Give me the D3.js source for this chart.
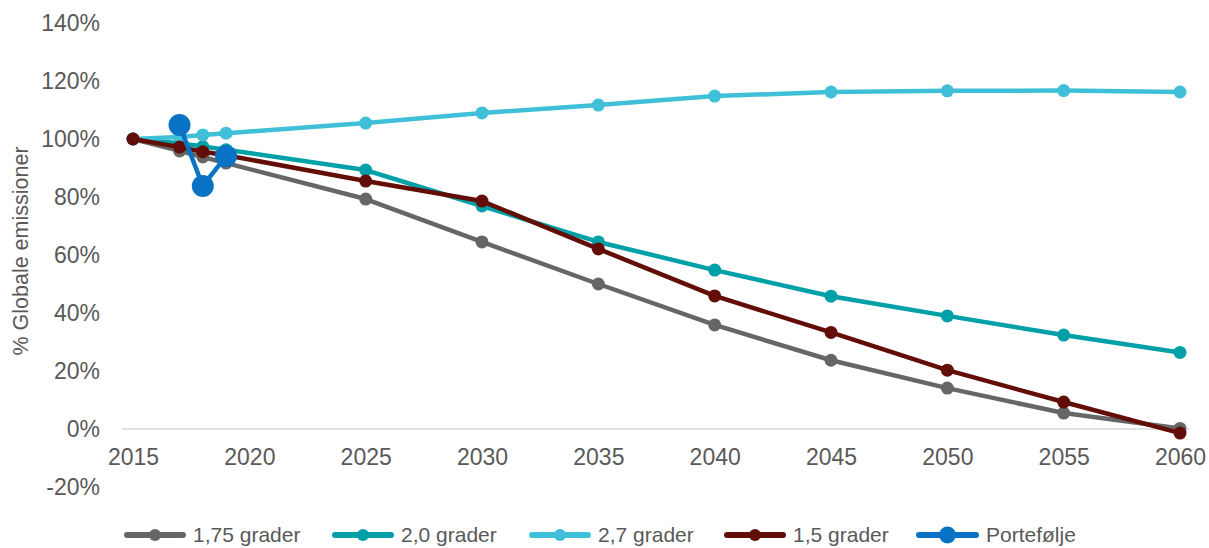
<!DOCTYPE html>
<html><head><meta charset="utf-8">
<script src="https://cdn.jsdelivr.net/npm/d3@7"></script>
<style>body{margin:0;background:#fff;}svg{display:block;font-family:"Liberation Sans",Arial,sans-serif;}</style>
</head><body><svg id="c" width="1209" height="548"></svg>
<script>
const years = [2015, 2017, 2018, 2019, 2025, 2030, 2035, 2040, 2045, 2050, 2055, 2060];
const s175 = [100, 95.9, 93.8, 91.7, 79.3, 64.5, 50, 35.9, 23.7, 14.1, 5.5, 0.2];
const s20  = [100, 98.5, 97.4, 96.3, 89.3, 76.9, 64.5, 54.8, 45.8, 39.0, 32.4, 26.4];
const s27  = [100, 100.7, 101.4, 102.0, 105.5, 109.0, 111.7, 114.8, 116.2, 116.6, 116.7, 116.2];
const s15  = [100, 97.2, 95.6, 94.4, 85.5, 78.6, 62.1, 45.9, 33.3, 20.3, 9.3, -1.4];
const portYears = [2017, 2018, 2019];
const portVals = [104.8, 83.8, 94.1];
const xTicks = [2015, 2020, 2025, 2030, 2035, 2040, 2045, 2050, 2055, 2060];
const yTicks = [-20, 0, 20, 40, 60, 80, 100, 120, 140];
const names = ["1,75 grader", "2,0 grader", "2,7 grader", "1,5 grader", "Portefølje"];
const colors = ["#666666", "#00a0a8", "#40c0d8", "#620e06", "#0872c4"];

const svg = d3.select("#c");
const x = d3.scaleLinear().domain([2015, 2060]).range([133, 1180]);
const y = d3.scaleLinear().domain([0, 140]).range([429, 23]);

// zero line
svg.append("line").attr("x1", 122).attr("x2", 1190).attr("y1", y(0)).attr("y2", y(0))
  .attr("stroke", "#d9d9d9").attr("stroke-width", 1.5);

// y axis labels
const yAxis = d3.axisLeft(y).tickValues(yTicks).tickFormat(d => d + "%").tickSize(0).tickPadding(0);
const gy = svg.append("g").attr("transform", "translate(100,0)").call(yAxis);
gy.select(".domain").remove();
gy.selectAll("text").attr("font-size", 23).attr("fill", "#595959").attr("font-family", "Liberation Sans, Arial, sans-serif");

// x axis labels
const xAxis = d3.axisBottom(x).tickValues(xTicks).tickFormat(d3.format("d")).tickSize(0).tickPadding(0);
const gx = svg.append("g").attr("transform", "translate(0,457)").call(xAxis);
gx.select(".domain").remove();
gx.selectAll("text").attr("font-size", 23).attr("fill", "#595959").attr("font-family", "Liberation Sans, Arial, sans-serif").attr("dy", "0.35em").attr("y", 0);

// y title
svg.append("text").attr("transform", "translate(28,251) rotate(-90)").attr("text-anchor", "middle")
  .attr("font-size", 21.5).attr("fill", "#595959").text("% Globale emissioner");

const line = d3.line().x(d => x(d[0])).y(d => y(d[1]));
const series = [s175, s20, s27, s15];
series.forEach((vals, i) => {
  const pts = years.map((yr, j) => [yr, vals[j]]);
  const g = svg.append("g");
  g.append("path").datum(pts).attr("d", line).attr("fill", "none")
    .attr("stroke", colors[i]).attr("stroke-width", 4.5).attr("stroke-linejoin", "round");
  g.selectAll("circle").data(pts).join("circle").attr("cx", d => x(d[0])).attr("cy", d => y(d[1]))
    .attr("r", 6.5).attr("fill", colors[i]);
});
const pPts = portYears.map((yr, j) => [yr, portVals[j]]);
const gp = svg.append("g");
gp.append("path").datum(pPts).attr("d", line).attr("fill", "none").attr("stroke", colors[4]).attr("stroke-width", 4.5);
gp.selectAll("circle").data(pPts).join("circle").attr("cx", d => x(d[0])).attr("cy", d => y(d[1]))
  .attr("r", 11).attr("fill", colors[4]);

// legend
const legX = [127, 335, 532, 727, 919];
const legLen = [56, 56, 56, 56, 57];
const ly = 535;
names.forEach((n, i) => {
  const g = svg.append("g");
  g.append("line").attr("x1", legX[i]).attr("x2", legX[i] + legLen[i]).attr("y1", ly).attr("y2", ly)
    .attr("stroke", colors[i]).attr("stroke-width", 6).attr("stroke-linecap", "round");
  g.append("circle").attr("cx", legX[i] + legLen[i] / 2).attr("cy", ly).attr("r", i === 4 ? 8.5 : 6).attr("fill", colors[i]);
  g.append("text").attr("x", legX[i] + legLen[i] + 10).attr("y", ly).attr("dy", "0.35em")
    .attr("font-size", 21).attr("fill", "#595959").text(n);
});
</script></body></html>
